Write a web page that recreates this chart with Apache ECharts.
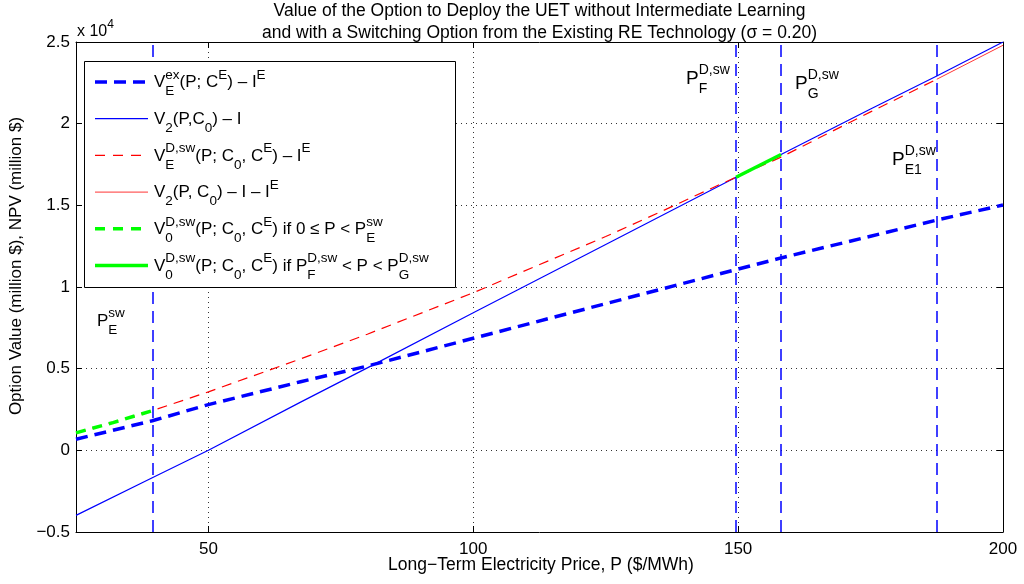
<!DOCTYPE html>
<html lang="en">
<head>
<meta charset="UTF-8">
<title>UET option value</title>
<script src="https://cdn.jsdelivr.net/npm/echarts@6/dist/echarts.min.js"></script>
<style>html,body{margin:0;padding:0;background:#fff}</style>
</head>
<body>
<div id="chart" style="width:1024px;height:584px;"></div>
<script>
// price P ($/MWh) and value (million $) for each curve
var exP = [25, 39.4, 50, 67.4, 80, 100, 125, 150, 158.1, 175, 187.5, 200];
var exV = [680, 1810, 2800, 4200, 5160, 6860, 8980, 11100, 11780, 13110, 14100, 15020];

var v2P = [25, 39.4, 50, 67.4, 80, 100, 125, 149.6, 158.1, 175, 187.5, 200];
var v2V = [-3980, -1680, 0, 2950, 5050, 8420, 12600, 16720, 18110, 20900, 22920, 25000];

var swP = [25, 39.4, 50, 67.4, 80, 100, 125, 135, 145, 149.6, 158.1, 175, 187.5];
var swV = [1070, 2430, 3580, 5600, 7110, 9650, 13090, 14550, 16050, 16720, 17950, 20720, 22720];

var v2eP = [187.5, 200];
var v2eV = [22720, 24800];

var lowP = [25, 32, 39.4];
var lowV = [1070, 1700, 2430];

var midP = [149.6, 158.1];
var midV = [16720, 18110];

// P_E^sw, P_F^D,sw, P_G^D,sw, P_E1^D,sw
var thresholds = [39.4, 149.6, 158.1, 187.5];
var xTicks = [50, 100, 150, 200];

var FONT = '"Liberation Sans", Arial, sans-serif';

function zip(xs, ys) {
    return xs.map(function (x, i) { return [x, ys[i]]; });
}

var ctx = document.createElement('canvas').getContext('2d');
function textWidth(s, size) {
    ctx.font = size + 'px ' + FONT;
    return ctx.measureText(s).width;
}

function txt(s, x, base, size) {
    return {
        type: 'text', x: x, y: base - 0.35 * size, silent: true, z: 100,
        style: { text: s, fill: '#000', font: size + 'px ' + FONT, align: 'left', verticalAlign: 'middle' }
    };
}

// tokens: plain strings or {sup, sub} stacked scripts
function formula(tokens, x, base, size, small) {
    var out = [];
    tokens.forEach(function (t) {
        if (typeof t === 'string') {
            out.push(txt(t, x, base, size));
            x += textWidth(t, size);
        } else {
            var w = 0;
            if (t.sup) {
                out.push(txt(t.sup, x, base - 0.5 * size, small));
                w = Math.max(w, textWidth(t.sup, small));
            }
            if (t.sub) {
                out.push(txt(t.sub, x, base + 0.45 * size, small));
                w = Math.max(w, textWidth(t.sub, small));
            }
            x += w;
        }
    });
    return out;
}

var legendRows = [
    { color: '#0000ff', width: 3.5, type: [12, 7], tokens: ['V', { sup: 'ex', sub: 'E' }, '(P; C', { sup: 'E' }, ') \u2013 I', { sup: 'E' }] },
    { color: '#0000ff', width: 1.2, type: 'solid', tokens: ['V', { sub: '2' }, '(P,C', { sub: '0' }, ') \u2013 I'] },
    { color: '#ff0000', width: 1.2, type: [10, 8], tokens: ['V', { sup: 'D,sw', sub: 'E' }, '(P; C', { sub: '0' }, ', C', { sup: 'E' }, ') \u2013 I', { sup: 'E' }] },
    { color: '#ff0000', width: 0.8, type: 'solid', tokens: ['V', { sub: '2' }, '(P, C', { sub: '0' }, ') \u2013 I \u2013 I', { sup: 'E' }] },
    { color: '#00ff00', width: 3.5, type: [10, 8], tokens: ['V', { sup: 'D,sw', sub: '0' }, '(P; C', { sub: '0' }, ', C', { sup: 'E' }, ') if 0 \u2264 P < P', { sup: 'sw', sub: 'E' }] },
    { color: '#00ff00', width: 3.5, type: 'solid', tokens: ['V', { sup: 'D,sw', sub: '0' }, '(P; C', { sub: '0' }, ', C', { sup: 'E' }, ') if P', { sup: 'D,sw', sub: 'F' }, ' < P < P', { sup: 'D,sw', sub: 'G' }] }
];

var graphics = [];
graphics.push({
    type: 'rect', shape: { x: 84.5, y: 61.5, width: 371, height: 226 }, z: 90,
    style: { fill: '#fff', stroke: '#000', lineWidth: 1 }
});
legendRows.forEach(function (r, i) {
    var base = 88.5 + i * 36.7;
    graphics.push({
        type: 'line', z: 95, silent: true,
        shape: { x1: 95, y1: base - 6.5, x2: 148, y2: base - 6.5 },
        style: { stroke: r.color, lineWidth: r.width, lineDash: r.type === 'solid' ? null : r.type }
    });
    graphics = graphics.concat(formula(r.tokens, 154, base, 17, 13.5));
});

// threshold labels
graphics = graphics.concat(formula(['P', { sup: 'sw', sub: 'E' }], 97, 327, 17, 13.5));
graphics = graphics.concat(formula(['P', { sup: 'D,sw', sub: 'F' }], 686, 85, 19, 14));
graphics = graphics.concat(formula(['P', { sup: 'D,sw', sub: 'G' }], 795, 90, 19, 14));
graphics = graphics.concat(formula(['P', { sup: 'D,sw', sub: 'E1' }], 892, 166, 19, 14));

// exponent of the y axis
graphics = graphics.concat(formula(['x 10', { sup: '4' }], 77, 37, 16, 12));

// title and axis names
graphics.push({
    type: 'text', x: 539.5, y: 22, silent: true,
    style: { text: 'Value of the Option to Deploy the UET without Intermediate Learning\nand with a Switching Option from the Existing RE Technology (\u03c3 = 0.20)',
        fill: '#000', font: '17.5px ' + FONT, align: 'center', verticalAlign: 'middle', lineHeight: 22.5 }
});
graphics.push({
    type: 'text', x: 541, y: 565, silent: true,
    style: { text: 'Long\u2212Term Electricity Price, P ($/MWh)', fill: '#000', font: '17.5px ' + FONT, align: 'center', verticalAlign: 'middle' }
});
graphics.push({
    type: 'text', x: 16, y: 266, rotation: Math.PI / 2, silent: true,
    style: { text: 'Option Value (million $), NPV (million $)', fill: '#000', font: '17px ' + FONT, align: 'center', verticalAlign: 'middle' }
});

var chart = echarts.init(document.getElementById('chart'), null, { renderer: 'canvas' });

function lineSeries(data, color, width, type, z) {
    return {
        type: 'line', data: data, showSymbol: false, symbol: 'none', z: z,
        lineStyle: { color: color, width: width, type: type },
        emphasis: { disabled: true }, silent: true
    };
}

var exSeries = lineSeries(zip(exP, exV), '#0000ff', 3.5, [12, 7], 3);
exSeries.markLine = {
    symbol: ['none', 'none'], silent: true, animation: false,
    label: { show: false },
    lineStyle: { color: '#0000ff', width: 1.5, type: [12, 7] },
    data: thresholds.map(function (v) { return { xAxis: v }; })
};

var axisCommon = {
    axisLine: { show: true, onZero: false, lineStyle: { color: '#000', width: 1 } },
    axisTick: { show: true, inside: true, length: 6, lineStyle: { color: '#000' } }
};

var option = {
    animation: false,
    backgroundColor: '#fff',
    grid: { left: 76, right: 21, top: 42, bottom: 52, containLabel: false, outerBoundsMode: 'none' },
    xAxis: [
        Object.assign({}, axisCommon, {
            type: 'value', min: 25, max: 200, position: 'bottom',
            axisTick: { show: true, inside: true, length: 6, customValues: xTicks, lineStyle: { color: '#000' } },
            axisLabel: { customValues: xTicks, color: '#000', fontSize: 17, fontFamily: FONT, margin: 9 },
            splitLine: { show: true, lineStyle: { color: '#333', width: 1, type: [1, 4] } }
        }),
        Object.assign({}, axisCommon, {
            type: 'value', min: 25, max: 200, position: 'top',
            axisTick: { show: true, inside: true, length: 6, customValues: xTicks, lineStyle: { color: '#000' } },
            axisLabel: { show: false }, splitLine: { show: false }
        })
    ],
    yAxis: [
        Object.assign({}, axisCommon, {
            type: 'value', min: -5000, max: 25000, interval: 5000, position: 'left',
            axisLabel: {
                color: '#000', fontSize: 17, fontFamily: FONT, margin: 6,
                formatter: function (v) { return String(v / 1e4).replace('-', '\u2212'); }
            },
            splitLine: { show: true, lineStyle: { color: '#333', width: 1, type: [1, 4] } }
        }),
        Object.assign({}, axisCommon, {
            type: 'value', min: -5000, max: 25000, interval: 5000, position: 'right',
            axisLabel: { show: false }, splitLine: { show: false }
        })
    ],
    series: [
        exSeries,
        lineSeries(zip(v2P, v2V), '#0000ff', 1.2, 'solid', 4),
        lineSeries(zip(swP, swV), '#ff0000', 1.2, [10, 7], 5),
        lineSeries(zip(v2eP, v2eV), '#ff0000', 0.8, 'solid', 5),
        lineSeries(zip(lowP, lowV), '#00ff00', 3.5, [10, 7], 6),
        lineSeries(zip(midP, midV), '#00ff00', 3.5, 'solid', 6)
    ],
    graphic: graphics
};

chart.setOption(option);
</script>
</body>
</html>
